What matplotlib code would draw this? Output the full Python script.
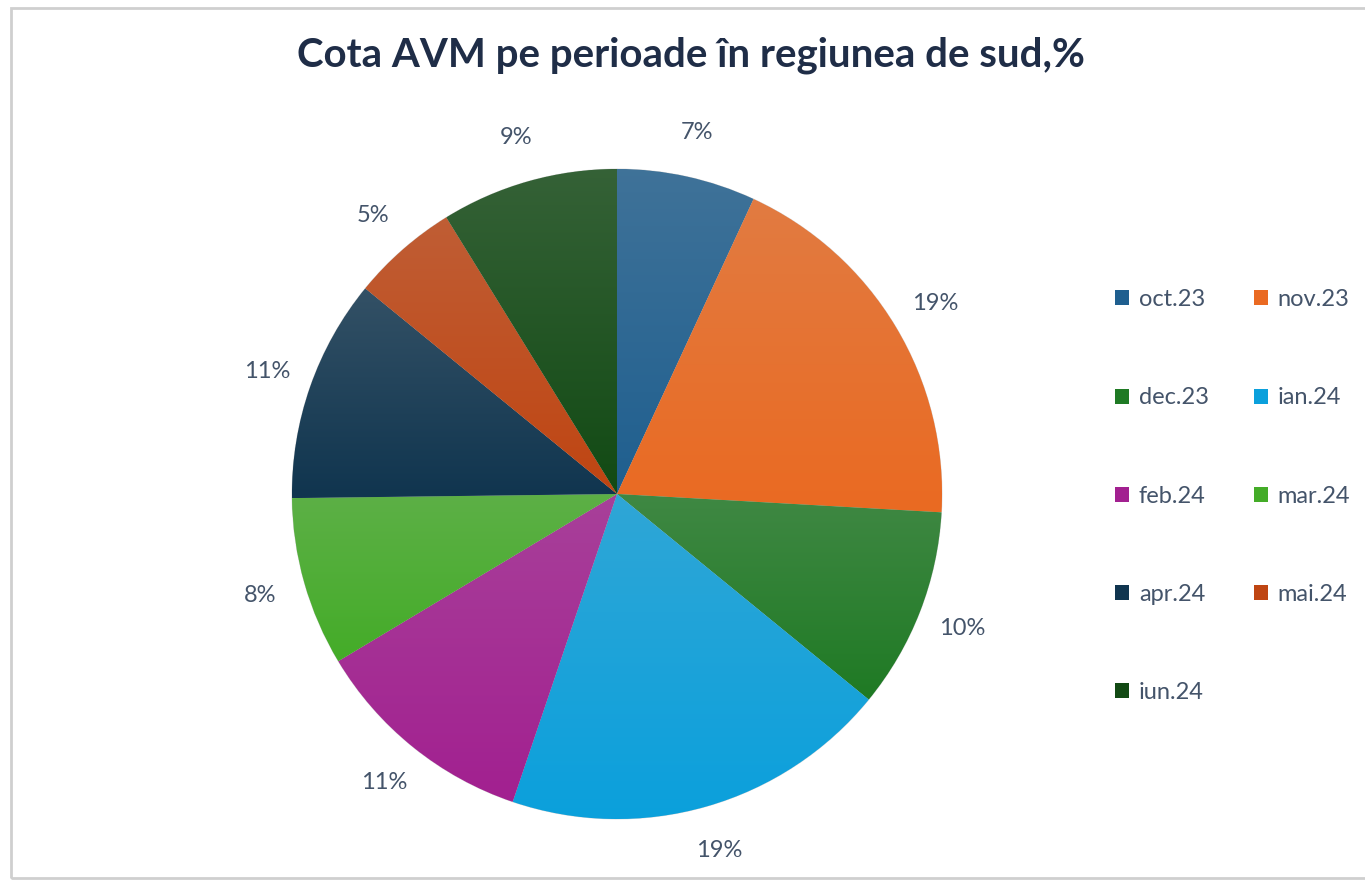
import numpy as np
import matplotlib.pyplot as plt
from matplotlib.colors import to_rgb
from matplotlib.patches import Rectangle

# shares per period (%)
periods = ["oct.23", "nov.23", "dec.23", "ian.24", "feb.24",
           "mar.24", "apr.24", "mai.24", "iun.24"]
shares = [6.9, 19.0, 10.0, 19.3, 11.2, 8.4, 11.1, 5.3, 8.8]
colors = ["#1f5f8f", "#ea6a22", "#1f7a24", "#0ba0dc", "#a22090",
          "#44ac28", "#10354f", "#bf4512", "#124a14"]
title = "Cota AVM pe perioade în regiunea de sud,%"

TEXT_COLOR = "#44546a"


def main() -> None:
    plt.rcParams["font.family"] = ["Lato", "DejaVu Sans"]
    fig = plt.figure(figsize=(13.65, 8.81), dpi=100)

    # thin grey frame like the exported chart area
    fig.patches.append(Rectangle((11 / 1365, 3 / 881), 1360 / 1365, 870 / 881,
                                 transform=fig.transFigure, fill=False,
                                 edgecolor="#cfcfcf", linewidth=2))

    ax = fig.add_axes([292 / 1365, 62 / 881, 650 / 1365, 650 / 881])
    wedges, texts, autotexts = ax.pie(
        shares, colors=colors, startangle=90, counterclock=False,
        autopct="%1.0f%%", pctdistance=1.14, radius=1,
        wedgeprops=dict(linewidth=0.6, edgecolor="#d8d8d8"),
        textprops=dict(color=TEXT_COLOR, fontsize=17))
    ax.set_aspect("equal")
    ax.axis("off")

    # Excel-like vertical gradient inside each slice (lighter on top)
    for w, c in zip(wedges, colors):
        base = np.array(to_rgb(c))
        top = base * 0.8 + np.array([0.75, 0.75, 0.75]) * 0.2
        bbox = w.get_path().get_extents()
        t = np.linspace(0, 1, 64)[:, None]
        grad = top * (1 - t) + base * t
        img = np.repeat(grad[:, None, :], 2, axis=1)
        im = ax.imshow(img, extent=[bbox.x0, bbox.x1, bbox.y0, bbox.y1],
                       origin="upper", aspect="auto", zorder=w.get_zorder(),
                       interpolation="bilinear")
        im.set_clip_path(w)
    ax.set_xlim(-1, 1)
    ax.set_ylim(-1, 1)

    fig.text(691 / 1365, 1 - 55 / 881, title, ha="center", va="center",
             fontsize=29, fontweight="bold", color="#1f2d47")

    # legend filled row by row, as in the original
    order = [0, 2, 4, 6, 8, 1, 3, 5, 7]
    leg = fig.legend([wedges[i] for i in order], [periods[i] for i in order],
                     ncol=2, loc="upper left",
                     bbox_to_anchor=(1094 / 1365, 1 - 268 / 881),
                     frameon=False, fontsize=17, labelcolor=TEXT_COLOR,
                     handlelength=0.6, handleheight=0.6, handletextpad=0.4,
                     labelspacing=3.27, columnspacing=1.9)
    for h in leg.legend_handles:
        h.set_edgecolor("none")

    fig.savefig("out.png", dpi=100, facecolor="white")


if __name__ == "__main__":
    main()
